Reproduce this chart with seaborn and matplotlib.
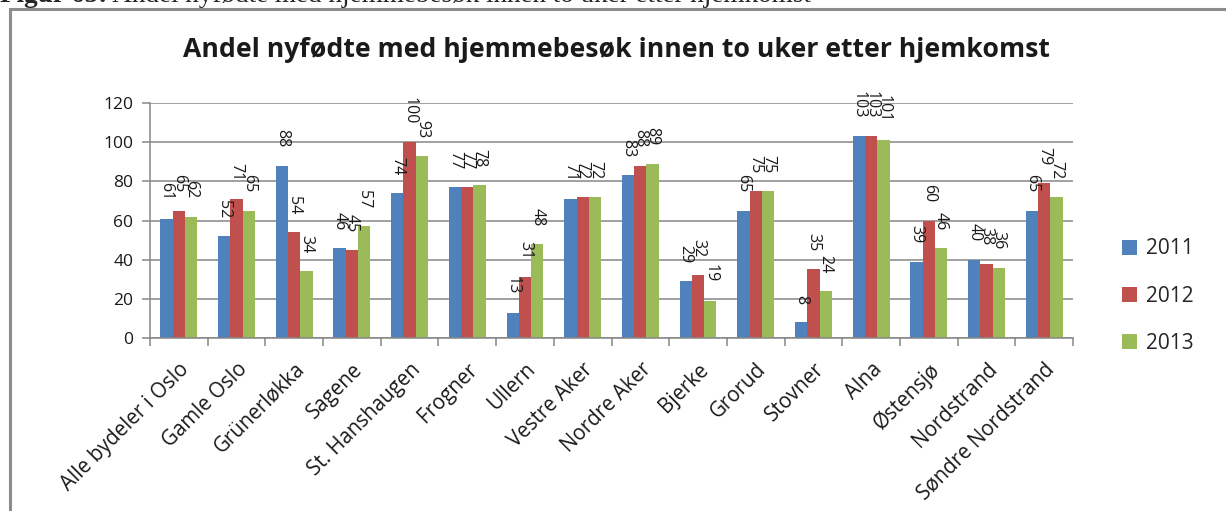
import matplotlib
matplotlib.use("Agg")
import matplotlib.pyplot as plt
import seaborn as sns
import pandas as pd
import numpy as np
from matplotlib.patches import Rectangle, Patch

categories = ["Alle bydeler i Oslo", "Gamle Oslo", "Grünerløkka", "Sagene",
              "St. Hanshaugen", "Frogner", "Ullern", "Vestre Aker", "Nordre Aker",
              "Bjerke", "Grorud", "Stovner", "Alna", "Østensjø", "Nordstrand",
              "Søndre Nordstrand"]
years = ["2011", "2012", "2013"]
v2011 = [61, 52, 88, 46, 74, 77, 13, 71, 83, 29, 65, 8, 103, 39, 40, 65]
v2012 = [65, 71, 54, 45, 100, 77, 31, 72, 88, 32, 75, 35, 103, 60, 38, 79]
v2013 = [62, 65, 34, 57, 93, 78, 48, 72, 89, 19, 75, 24, 101, 46, 36, 72]
yticks = [0, 20, 40, 60, 80, 100, 120]
title = "Andel nyfødte med hjemmebesøk innen to uker etter hjemkomst"
caption_bold = "Figur 65:"
caption_rest = " Andel nyfødte med hjemmebesøk innen to uker etter hjemkomst"

colors = ["#4F81BD", "#C0504D", "#9BBB59"]
grid_c = "#868686"
W, H = 1226, 511

sns.set_theme(style="white")
plt.rcParams["font.family"] = ["Open Sans", "DejaVu Sans"]

df = pd.DataFrame({
    "bydel": categories * 3,
    "år": [y for y in years for _ in categories],
    "andel": v2011 + v2012 + v2013,
})

fig = plt.figure(figsize=(W / 100, H / 100), dpi=100)
ax = fig.add_axes([150 / W, 1 - 338 / H, (1073 - 150) / W, (338 - 103) / H])

sns.barplot(data=df, x="bydel", y="andel", hue="år", order=categories,
            hue_order=years, palette=colors, width=0.64, saturation=1,
            errorbar=None, ax=ax, legend=False, edgecolor="none", linewidth=0)

for cont in ax.containers:
    ax.bar_label(cont, fmt="%d", rotation=270, padding=13, fontsize=11.5,
                 color="#1a1a1a")

ax.set_ylim(0, 120)
ax.set_xlim(-0.5, len(categories) - 0.5)
ax.set_yticks(yticks)
ax.set_yticklabels([str(t) for t in yticks], fontsize=12.5, color="#1a1a1a")
ax.yaxis.grid(True, color=grid_c, linewidth=1.1)
ax.set_axisbelow(True)
ax.set_xlabel("")
ax.set_ylabel("")
for s in ["top", "right"]:
    ax.spines[s].set_visible(False)
for s in ["left", "bottom"]:
    ax.spines[s].set_color(grid_c)
    ax.spines[s].set_linewidth(1.1)

ax.set_xticks(range(len(categories)))
ax.set_xticklabels(categories, rotation=45, ha="right", va="top",
                   rotation_mode="anchor", fontsize=14.8, color="#1a1a1a")
ax.tick_params(axis="x", which="major", length=0, pad=15)
ax.set_xticks(np.arange(-0.5, len(categories), 1.0), minor=True)
ax.tick_params(axis="x", which="minor", length=6, color=grid_c, width=1.1,
               direction="out", bottom=True)
ax.tick_params(axis="y", which="major", length=6, color=grid_c, width=1.1,
               direction="out", left=True, pad=6)

handles = [Patch(facecolor=c, edgecolor="none") for c in colors]
fig.legend(handles, years, loc="center left",
           bbox_to_anchor=(1103 / W, 1 - 296 / H), frameon=False,
           fontsize=15, handlelength=0.75, handleheight=0.75,
           handletextpad=0.4, labelspacing=1.25)

fig.text(616 / W, 1 - 50 / H, title, ha="center", va="center",
         fontsize=19.2, fontweight="bold", color="#1a1a1a")

# page caption partly cut off at top
cap_b = fig.text(0.0, 1 - 2 / H, caption_bold, ha="left", va="baseline",
                 fontsize=19.5, fontweight="bold", family="Liberation Serif")
fig.canvas.draw()
bb = cap_b.get_window_extent(renderer=fig.canvas.get_renderer())
fig.text(bb.x1 / W, 1 - 2 / H, caption_rest, ha="left", va="baseline",
         fontsize=19.5, family="Liberation Serif")

# outer chart frame
fig.patches.append(Rectangle((10 / W, -0.2), 1.2, 1 - 9 / H + 0.2,
                             transform=fig.transFigure, fill=False,
                             edgecolor="#8c8c8c", linewidth=2.2))

fig.savefig("out.png", dpi=100, facecolor="white")
